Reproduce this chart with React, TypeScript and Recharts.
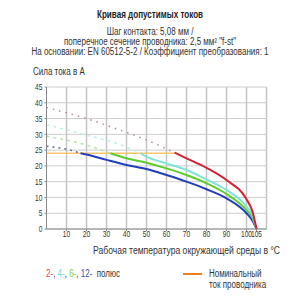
import React from 'react';
import { LineChart, Line, XAxis, YAxis, CartesianGrid } from 'recharts';

// Температура, °C / ток, А
const red2Dotted = [
  { t: 0, i: 38.5 }, { t: 20, i: 35 }, { t: 40, i: 30.6 }, { t: 50, i: 28.2 }, { t: 64, i: 24.2 },
];
const red2 = [
  { t: 64, i: 24.2 }, { t: 70, i: 22.4 }, { t: 80, i: 19.4 }, { t: 90, i: 15.5 },
  { t: 100, i: 9.4 }, { t: 103, i: 5.5 }, { t: 105, i: 0 },
];
const cyan4Dotted = [
  { t: 0, i: 33 }, { t: 20, i: 29.8 }, { t: 40, i: 26 }, { t: 47, i: 24 },
];
const cyan4 = [
  { t: 47, i: 24 }, { t: 50, i: 22.9 }, { t: 60, i: 20.8 }, { t: 70, i: 18.7 }, { t: 80, i: 15.7 },
  { t: 90, i: 12.4 }, { t: 100, i: 7.1 }, { t: 103, i: 4.2 }, { t: 105, i: 0 },
];
const green6Dotted = [
  { t: 0, i: 29.4 }, { t: 20, i: 26.6 }, { t: 32, i: 24 },
];
const green6 = [
  { t: 32, i: 24 }, { t: 40, i: 22.4 }, { t: 50, i: 21 }, { t: 60, i: 19.2 }, { t: 70, i: 17.1 },
  { t: 80, i: 14.5 }, { t: 90, i: 11.1 }, { t: 100, i: 6 }, { t: 103, i: 3.5 }, { t: 105, i: 0 },
];
const blue12Dotted = [
  { t: 0, i: 26.2 }, { t: 10, i: 25.3 }, { t: 17, i: 24 },
];
const blue12 = [
  { t: 17, i: 24 }, { t: 20, i: 23.6 }, { t: 30, i: 21.9 }, { t: 40, i: 20.3 }, { t: 50, i: 19 },
  { t: 60, i: 17.1 }, { t: 70, i: 15 }, { t: 80, i: 12.6 }, { t: 90, i: 9.7 }, { t: 100, i: 5 },
  { t: 103, i: 2.6 }, { t: 105, i: 0 },
];
const nominal = [{ t: 0, i: 24 }, { t: 64, i: 24 }];

const xTicks = [10, 20, 30, 40, 50, 60, 70, 80, 90, 100, 105];
const xGrid = [10, 20, 30, 40, 50, 60, 70, 80, 90, 100, 110];
const yTicks = [0, 5, 10, 15, 20, 25, 30, 35, 40, 45];
const X_MAX = 110;
const Y_MAX = 45;

const FONT = '"Liberation Sans", Arial, sans-serif';
const SQUEEZE = 0.8;
const GRID = '#cccccc';

// узкие подписи делений
const NarrowTick = (props: any) => {
  const { x, y, payload, textAnchor, axis } = props;
  const dy = axis === 'x' ? 6.5 : 3.2;
  return (
    <text
      x={x}
      y={y}
      dy={dy}
      textAnchor={textAnchor}
      fontSize={9.5}
      fontFamily={FONT}
      fill="#333"
      transform={`translate(${x} 0) scale(0.7 1) translate(${-x} 0)`}
    >
      {payload.value}
    </text>
  );
};

export default function App() {
  const text = (left: number, top: number, extra: React.CSSProperties = {}): React.CSSProperties => ({
    position: 'absolute',
    left,
    top,
    fontFamily: FONT,
    fontSize: 10,
    color: '#333',
    whiteSpace: 'nowrap',
    transform: `scaleX(${SQUEEZE})`,
    transformOrigin: 'left top',
    ...extra,
  });
  const centered = (top: number, extra: React.CSSProperties = {}): React.CSSProperties => ({
    ...text(0, top),
    width: 300,
    textAlign: 'center',
    transformOrigin: '150px 0',
    ...extra,
  });
  return (
    <div style={{ position: 'absolute', left: 0, top: 0, width: 300, height: 300, background: '#fff' }}>
      <LineChart width={300} height={300} margin={{ top: 87, right: 33.5, bottom: 51, left: 6.5 }}>
        <CartesianGrid stroke={GRID} vertical={false} horizontalValues={yTicks} />
        <XAxis
          type="number"
          dataKey="t"
          domain={[0, X_MAX]}
          ticks={xTicks}
          interval={0}
          stroke="#888"
          tickSize={2}
          tickMargin={0}
          height={20}
          tick={<NarrowTick axis="x" />}
        />
        <YAxis
          type="number"
          dataKey="i"
          domain={[0, Y_MAX]}
          ticks={yTicks}
          interval={0}
          stroke="#888"
          tickSize={2}
          tickMargin={2}
          width={40}
          tick={<NarrowTick axis="y" />}
        />
        {/* вертикальная сетка */}
        {xGrid.map((v) => (
          <Line
            key={`g${v}`}
            data={[{ t: v, i: 0 }, { t: v, i: Y_MAX }]}
            dataKey="i"
            stroke="#c4c4c4"
            strokeWidth={1.5}
            dot={false}
            activeDot={false}
            isAnimationActive={false}
          />
        ))}
        <Line data={nominal} dataKey="i" stroke="#f7c46c" strokeWidth={1.5} dot={false} isAnimationActive={false} />
        <Line data={red2Dotted} dataKey="i" type="monotone" stroke="#b88a9a" strokeWidth={1.5} strokeDasharray="1.5 5" dot={false} isAnimationActive={false} />
        <Line data={cyan4Dotted} dataKey="i" type="monotone" stroke="#bfeeee" strokeWidth={1.5} strokeDasharray="3 4" dot={false} isAnimationActive={false} />
        <Line data={green6Dotted} dataKey="i" type="monotone" stroke="#b8e6a0" strokeWidth={1.5} strokeDasharray="3 4" dot={false} isAnimationActive={false} />
        <Line data={blue12Dotted} dataKey="i" type="monotone" stroke="#5a6a9a" strokeWidth={1.5} strokeDasharray="2 4" dot={false} isAnimationActive={false} />
        <Line data={blue12} dataKey="i" type="monotone" stroke="#1f3fbf" strokeWidth={2} dot={false} isAnimationActive={false} />
        <Line data={green6} dataKey="i" type="monotone" stroke="#5ccc2e" strokeWidth={2} dot={false} isAnimationActive={false} />
        <Line data={cyan4} dataKey="i" type="monotone" stroke="#7fe3dc" strokeWidth={2} dot={false} isAnimationActive={false} />
        <Line data={red2} dataKey="i" type="monotone" stroke="#d42030" strokeWidth={2} dot={false} isAnimationActive={false} />
      </LineChart>

      <div style={centered(8, { fontSize: 10.5, fontWeight: 'bold', color: '#222', transform: 'scaleX(0.77)' })}>
        Кривая допустимых токов
      </div>
      <div style={centered(27, { lineHeight: '10px' })}>
        Шаг контакта: 5,08 мм /<br />
        поперечное сечение проводника: 2,5 мм² "f-st"<br />
        На основании: EN 60512-5-2 / Коэффициент преобразования: 1
      </div>
      <div style={text(33, 66)}>Сила тока в А</div>
      <div style={text(93, 245, { transform: 'scaleX(0.86)' })}>
        Рабочая температура окружающей среды в °C
      </div>
      <div style={text(46, 268)}>
        <span style={{ color: '#e04050' }}>2-</span>, <span style={{ color: '#70d8e0' }}>4-</span>,{' '}
        <span style={{ color: '#80d040' }}>6-</span>, <span style={{ color: '#3050c0' }}>12-</span>&nbsp; полюс
      </div>
      <div style={{ position: 'absolute', left: 183, top: 273, width: 19, height: 2, background: '#f07d1e' }} />
      <div style={text(209, 268, { lineHeight: '11px' })}>
        Номинальный<br />ток проводника
      </div>
    </div>
  );
}
